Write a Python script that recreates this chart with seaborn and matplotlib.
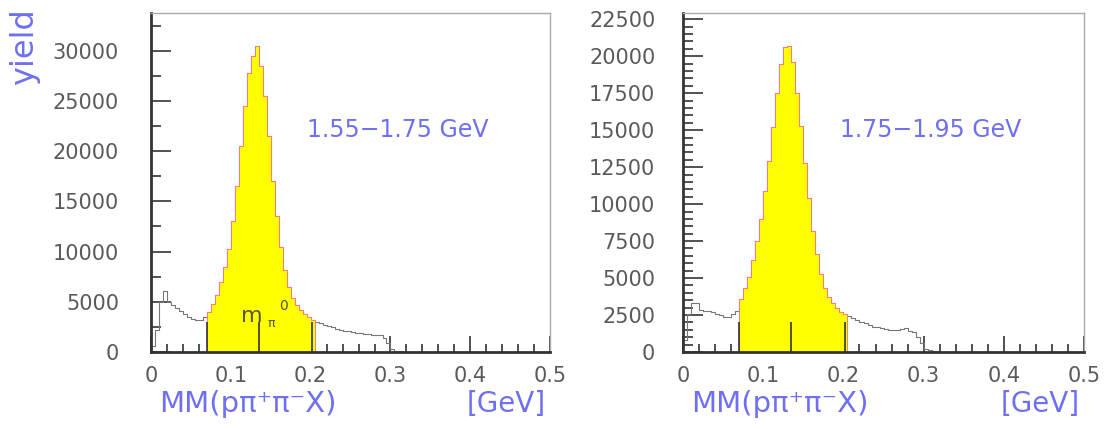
import pandas as pd
import matplotlib
matplotlib.use("Agg")
import matplotlib.pyplot as plt
from matplotlib.ticker import MultipleLocator, FuncFormatter
import seaborn as sns

# bin width 0.005 GeV, first bin starts at 0
bin_width = 0.005

# 1.55-1.75 GeV counts per bin
counts_low = [600, 2200, 5000, 6100, 5000, 4700, 4400, 4100, 3800, 3500, 3300, 3200, 3200, 3500,
              4000, 4800, 5700, 7000, 8500, 10300, 13000, 16500, 20500, 24500, 27800, 29500, 30500,
              28500, 25500, 21500, 17000, 13500, 10500, 8200, 6500, 5400, 4700, 4200, 3800, 3500, 3200,
              3000, 2850, 2700, 2550, 2450, 2300, 2200, 2100, 2050, 1950, 1900, 1850, 1800, 1750,
              1700, 1680, 1650, 1400, 900, 250, 80, 50, 30, 10]

# 1.75-1.95 GeV counts per bin
counts_high = [800, 2600, 3300, 3300, 2850, 2800, 2750, 2700, 2550, 2500, 2400, 2400, 2600, 2800,
               3600, 4300, 5100, 6200, 7500, 9000, 10900, 12900, 15200, 17500, 19500, 20600, 20700,
               19600, 17500, 15300, 12800, 10400, 8200, 6600, 5300, 4300, 3700, 3300, 3000, 2700, 2550,
               2450, 2300, 2150, 2050, 1950, 1800, 1720, 1680, 1620, 1560, 1480, 1460, 1480, 1550,
               1620, 1450, 1350, 1000, 600, 200, 110, 100, 80, 20]

panel_labels = ["1.55\u22121.75 GeV", "1.75\u22121.95 GeV"]
cut_lo, cut_hi = 0.07, 0.205
m_pi0 = 0.135

blue = "#6f6ff2"
grey = "#5a5a5a"

sns.set_style("ticks")
plt.rcParams["font.family"] = ["DejaVu Sans"]

fig = plt.figure(figsize=(11.19, 4.29), dpi=100)
ax1 = fig.add_axes([0.135, 0.1795, 0.3566, 0.791])
ax2 = fig.add_axes([0.6104, 0.1795, 0.3584, 0.791])

panels = [
    (ax1, counts_low, panel_labels[0], 33800, 5000, 2500, 3000, 23),
    (ax2, counts_high, panel_labels[1], 22950, 2500, 500, 2000, 20),
]

for ax, counts, label, ymax, ymaj, ymin, line_h, ypad in panels:
    n = len(counts)
    edges = [round(i * bin_width, 4) for i in range(n + 1)]
    df = pd.DataFrame({"mm": [e + bin_width / 2 for e in edges[:-1]], "n": counts})

    # full spectrum outline
    sns.histplot(data=df, x="mm", weights="n", bins=edges, element="step", fill=False,
                 color="#777777", linewidth=0.8, ax=ax)

    # signal window filled yellow
    sig = df[(df["mm"] > cut_lo) & (df["mm"] < cut_hi)]
    sub_edges = [e for e in edges if cut_lo - 1e-9 <= e <= cut_hi + 1e-9]
    sns.histplot(data=sig, x="mm", weights="n", bins=sub_edges, element="step", fill=True,
                 color="#ffff00", alpha=1, edgecolor="#ff7a7a", linewidth=0.7,
                 zorder=2.2, ax=ax)

    ax.vlines([cut_lo, m_pi0, cut_hi - 0.003], 0, line_h, colors="#333333", linewidth=1.2, zorder=3)

    ax.set_xlim(0, 0.5)
    ax.set_ylim(0, ymax)
    ax.set_xlabel("")
    ax.set_ylabel("")

    ax.xaxis.set_major_locator(MultipleLocator(0.1))
    ax.xaxis.set_minor_locator(MultipleLocator(0.02))
    ax.yaxis.set_major_locator(MultipleLocator(ymaj))
    ax.yaxis.set_minor_locator(MultipleLocator(ymin))
    ax.xaxis.set_major_formatter(FuncFormatter(lambda v, p: f"{v:g}"))
    ax.yaxis.set_major_formatter(FuncFormatter(lambda v, p: f"{v:.0f}"))

    ax.tick_params(axis="x", which="major", direction="in", length=11.5, width=1.2, bottom=True,
                   color="#333333", labelsize=15, labelcolor=grey, pad=10)
    ax.tick_params(axis="x", which="minor", direction="in", length=5.8, width=1.2, bottom=True,
                   color="#333333")
    ax.tick_params(axis="y", which="major", direction="in", length=14.4, width=1.2, left=True,
                   color="#333333", labelsize=15, labelcolor=grey, pad=ypad)
    ax.tick_params(axis="y", which="minor", direction="in", length=7.2, width=1.2, left=True,
                   color="#333333")

    for side in ["left", "bottom"]:
        ax.spines[side].set_color("#333333")
        ax.spines[side].set_linewidth(2)
    for side in ["top", "right"]:
        ax.spines[side].set_visible(True)
        ax.spines[side].set_color("#aaaaaa")
        ax.spines[side].set_linewidth(1)

    ax.text(0.392, 0.634, label, transform=ax.transAxes, fontsize=17, color=blue,
            ha="left", va="baseline")
    ax.text(0.02, -0.177, "MM(p\u03c0\u207a\u03c0\u207bX)", transform=ax.transAxes,
            fontsize=21, color=blue, ha="left", va="baseline")
    ax.text(0.99, -0.177, "[GeV]", transform=ax.transAxes, fontsize=20, color=blue,
            ha="right", va="baseline")

# pi0 mass marker label on the left panel
ax1.text(0.113, 3000, "m", fontsize=16, color="#555533", ha="left", va="baseline", zorder=4)
ax1.text(0.146, 2500, "\u03c0", fontsize=9, color="#555533", ha="left", va="baseline", zorder=4)
ax1.text(0.161, 4200, "0", fontsize=10, color="#555533", ha="left", va="baseline", zorder=4)

fig.text(0.022, 0.802, "yield", rotation=90, fontsize=23, color=blue, ha="center", va="bottom")

fig.savefig("out.png", dpi=100)
